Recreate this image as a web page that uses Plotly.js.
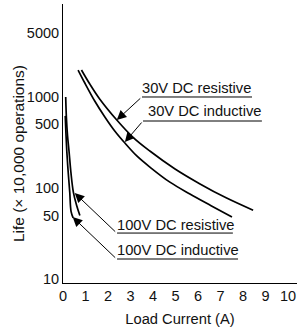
<!DOCTYPE html>
<html>
<head>
<meta charset="utf-8">
<script src="https://cdn.plot.ly/plotly-3.0.1.min.js"></script>
<style>html,body{margin:0;padding:0;background:#fff;}#chart{width:297px;height:331px;}</style>
</head>
<body>
<div id="chart"></div>
<script>
// Load current (A) and life (x 10,000 operations)
const res30X = [0.82, 1.19, 1.63, 2.39, 3.10, 3.86, 4.98, 6.09, 7.25, 8.45];
const res30Y = [1977, 1387, 950, 558, 363, 255, 162, 111, 78, 57];
const ind30X = [0.67, 0.97, 1.41, 1.86, 2.30, 2.75, 3.28, 3.86, 4.75, 5.64, 6.58, 7.51];
const ind30Y = [1977, 1423, 903, 603, 423, 312, 225, 170, 116, 86, 64, 48];
const res100X = [0.12, 0.15, 0.2, 0.27, 0.35, 0.46, 0.6, 0.75];
const res100Y = [1000, 600, 380, 250, 150, 90, 65, 50];
const ind100X = [0.1, 0.13, 0.17, 0.23, 0.3, 0.36, 0.45];
const ind100Y = [620, 400, 250, 150, 90, 55, 47];
const seriesNames = ["30V DC resistive", "30V DC inductive", "100V DC resistive", "100V DC inductive"];
const xTicks = [0, 1, 2, 3, 4, 5, 6, 7, 8, 9, 10];
const yTicks = [10, 50, 100, 500, 1000, 5000];
const xTitle = "Load Current (A)";
const yTitle = "Life (× 10,000 operations)";

const FONT = "Liberation Sans, Arial, sans-serif";
const lineStyle = {color: "#000", width: 1.7, shape: "spline", smoothing: 1};
const xs = [res30X, ind30X, res100X, ind100X];
const ys = [res30Y, ind30Y, res100Y, ind100Y];
const traces = xs.map((x, i) => ({
  x: x, y: ys[i], name: seriesNames[i], type: "scatter", mode: "lines",
  line: lineStyle, hoverinfo: "skip"
}));

// label placement (paper coords) and arrow tips (data coords, log10 for y)
const labelPos = [
  {tx: 0.3376, ty: 0.699, ux0: 0.3376, ux1: 0.8077, uy: 0.6667, ax: 2.39, ay: 2.747, dx: 25, dy: -23},
  {tx: 0.363, ty: 0.6165, ux0: 0.342, ux1: 0.850, uy: 0.5806, ax: 2.75, ay: 2.505, dx: 18, dy: -21},
  {tx: 0.231, ty: 0.208, ux0: 0.231, ux1: 0.726, uy: 0.179, ax: 0.52, ay: 1.945, dx: 42, dy: 40},
  {tx: 0.231, ty: 0.118, ux0: 0.231, ux1: 0.748, uy: 0.086, ax: 0.43, ay: 1.681, dx: 44, dy: 42}
];
const annotations = [];
const shapes = [];
labelPos.forEach((p, i) => {
  annotations.push({
    xref: "paper", yref: "paper", x: p.tx - 0.008, y: p.ty, xanchor: "left", yanchor: "middle",
    text: seriesNames[i], showarrow: false, font: {family: FONT, size: 14.7, color: "#111"}
  });
  annotations.push({
    xref: "x", yref: "y", x: p.ax, y: p.ay, text: "", showarrow: true,
    ax: p.dx, ay: p.dy, arrowhead: 2, arrowsize: 1.9, arrowwidth: 1, arrowcolor: "#000",
    standoff: 0, startstandoff: 0
  });
  shapes.push({
    type: "line", xref: "paper", yref: "paper", x0: p.ux0, x1: p.ux1, y0: p.uy, y1: p.uy,
    line: {color: "#000", width: 1}
  });
});
// y-axis title placed as a rotated annotation
annotations.push({
  xref: "paper", yref: "paper", x: -0.1923, y: 0.462, xanchor: "center", yanchor: "middle",
  textangle: -90, text: yTitle, showarrow: false, font: {family: FONT, size: 15.5, color: "#111"}
});

const layout = {
  width: 297, height: 331,
  margin: {l: 63, r: 0, t: 4, b: 48},
  paper_bgcolor: "#fff", plot_bgcolor: "#fff",
  showlegend: false,
  font: {family: FONT, size: 14, color: "#111"},
  xaxis: {
    range: [0, 10.4], tickvals: xTicks, ticktext: xTicks.map(String),
    showgrid: false, zeroline: false, showline: true, linecolor: "#000", linewidth: 1,
    ticks: "", tickfont: {size: 14.5},
    title: {text: xTitle, font: {size: 14.7}, standoff: 10}
  },
  yaxis: {
    type: "log", range: [0.957, 4.021], tickvals: yTicks, ticktext: yTicks.map(String),
    showgrid: false, zeroline: false, showline: true, linecolor: "#000", linewidth: 1,
    ticks: "", tickfont: {size: 14.5}
  },
  annotations: annotations,
  shapes: shapes
};

Plotly.newPlot("chart", traces, layout, {staticPlot: true, displayModeBar: false});
</script>
</body>
</html>
